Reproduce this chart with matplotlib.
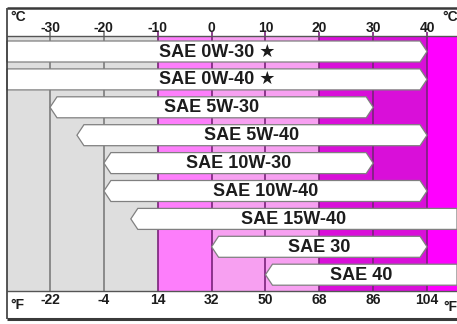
import matplotlib
matplotlib.use('Agg')
import matplotlib.pyplot as plt
from matplotlib.patches import Polygon, Rectangle

# ---- data ----
grades = ['SAE 0W-30 ★', 'SAE 0W-40 ★', 'SAE 5W-30', 'SAE 5W-40', 'SAE 10W-30',
          'SAE 10W-40', 'SAE 15W-40', 'SAE 30', 'SAE 40']
low_c = [-45, -45, -30, -25, -20, -20, -15, 0, 10]      # lower temperature limit (°C)
high_c = [40, 40, 30, 40, 30, 40, 50, 40, 50]           # upper temperature limit (°C)
celsius_ticks = [-30, -20, -10, 0, 10, 20, 30, 40]
fahrenheit_labels = ['-22', '-4', '14', '32', '50', '68', '86', '104']
zone_bounds = [-10, 0, 20, 40]
zone_colors = ['#dedede', '#fd7efb', '#f7a0f1', '#d90fd9', '#ff00ff']

# ---- layout ----
PX_PER_C = 5.386
ZERO_PX = 211.6
W, H = 457, 324
def px2c(px):
    return (px - ZERO_PX) / PX_PER_C

XL = px2c(7)        # left frame
XR = px2c(W)        # right edge
TOP_ROWS, BOT_ROWS = 36, 291
ROW0, PITCH, BAR_H = 51.5, 27.9, 21
TIP = 7 / PX_PER_C

fig = plt.figure(figsize=(W / 100, H / 100), dpi=100)
ax = fig.add_axes([0, 0, 1, 1])
ax.set_xlim(px2c(0), XR)
ax.set_ylim(H, 0)
ax.axis('off')

fam = ['Liberation Sans', 'DejaVu Sans']

# background zones
edges = [XL] + zone_bounds + [XR]
for i, c in enumerate(zone_colors):
    ax.add_patch(Rectangle((edges[i], TOP_ROWS), edges[i + 1] - edges[i],
                           BOT_ROWS - TOP_ROWS, facecolor=c, edgecolor='none', zorder=1))

# vertical grid lines
for t in celsius_ticks:
    col = '#7c7c7c' if t < -10 else '#7a237a'
    ax.vlines(t, 32, BOT_ROWS, colors=col, lw=1.2, zorder=2)

# header / footer lines
ax.hlines(TOP_ROWS, XL, XR, colors='#555555', lw=1.0, zorder=3)
ax.hlines(BOT_ROWS, XL, XR, colors='#555555', lw=1.0, zorder=3)

# bars
for i, (g, lo, hi) in enumerate(zip(grades, low_c, high_c)):
    yc = ROW0 + i * PITCH
    yt, yb = yc - BAR_H / 2, yc + BAR_H / 2
    pts = []
    if lo <= XL:
        x0 = XL
        pts += [(x0, yb), (x0, yt)]
    else:
        x0 = lo
        pts += [(lo + TIP, yb), (lo, yc), (lo + TIP, yt)]
    if hi >= XR:
        x1 = XR
        pts += [(x1, yt), (x1, yb)]
    else:
        x1 = hi
        pts += [(hi - TIP, yt), (hi, yc), (hi - TIP, yb)]
    ax.add_patch(Polygon(pts, closed=True, facecolor='white', edgecolor='#808080',
                         lw=0.9, zorder=4))
    ax.text((x0 + x1) / 2, yc + 0.5, g, ha='center', va='center', fontsize=13,
            fontweight='bold', color='#1c1c1c', family=fam, zorder=5)

# tick labels
for t, f in zip(celsius_ticks, fahrenheit_labels):
    ax.text(t, 28.5, str(t), ha='center', va='center', fontsize=10, fontweight='bold',
            color='#1c1c1c', family=fam)
    ax.text(t, 300, f, ha='center', va='center', fontsize=10, fontweight='bold',
            color='#1c1c1c', family=fam)

ax.text(px2c(10), 17, '°C', ha='left', va='center', fontsize=10, fontweight='bold',
        color='#1c1c1c', family=fam)
ax.text(px2c(442), 17, '°C', ha='left', va='center', fontsize=10, fontweight='bold',
        color='#1c1c1c', family=fam)
ax.text(px2c(10), 305, '°F', ha='left', va='center', fontsize=10, fontweight='bold',
        color='#1c1c1c', family=fam)
ax.text(px2c(443), 307, '°F', ha='left', va='center', fontsize=10, fontweight='bold',
        color='#1c1c1c', family=fam)

# outer frame
ax.hlines(7.5, XL, XR, colors='#3a3a3a', lw=1.8, zorder=6)
ax.vlines(XL, 7.5, 319, colors='#3a3a3a', lw=1.2, zorder=6)
ax.hlines(319, XL, XR, colors='#3a3a3a', lw=2.2, zorder=6)

fig.savefig('out.png', dpi=100)
